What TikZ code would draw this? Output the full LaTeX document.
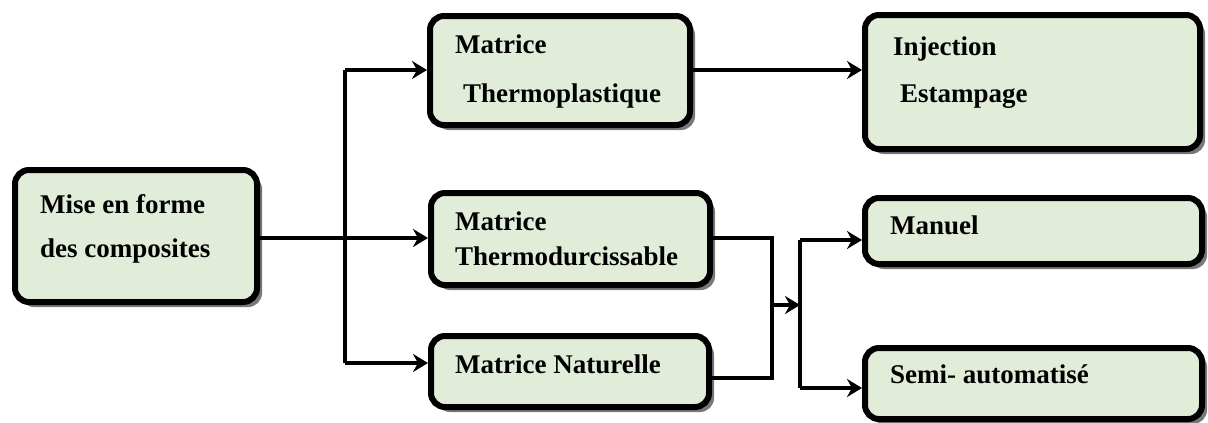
\documentclass[tikz,border=0pt]{standalone}
\usepackage{fontspec}
\setmainfont{Liberation Serif}
\usetikzlibrary{arrows.meta,shadows}
\definecolor{boxfill}{RGB}{225,237,216}
\definecolor{shadowgray}{RGB}{120,120,120}
\tikzset{
  box/.style={draw=black, line width=6pt, rounded corners=14pt, fill=boxfill,
    drop shadow={shadow xshift=5pt, shadow yshift=-5pt, fill=shadowgray, opacity=1},
    inner sep=0pt},
  lbl/.style={anchor=base west, inner sep=0pt, font=\fontsize{27}{31}\selectfont\bfseries},
  conn/.style={line width=4.5pt, line join=miter},
  arr/.style={conn, -{Stealth[length=15pt,width=18pt,inset=5pt]}},
}
\begin{document}
\begin{tikzpicture}[x=1pt,y=-1pt]
\useasboundingbox (0,0) rectangle (1208,423);
% boxes
\node[box, minimum width=242pt, minimum height=132pt] (mise) at (136,236) {};
\node[box, minimum width=260pt, minimum height=109pt] (thermop) at (560,70.5) {};
\node[box, minimum width=279pt, minimum height=92pt] (thermod) at (570.5,239) {};
\node[box, minimum width=278pt, minimum height=71pt] (natur) at (570,371.5) {};
\node[box, minimum width=335pt, minimum height=134pt] (inj) at (1032.5,82) {};
\node[box, minimum width=337pt, minimum height=66pt] (manuel) at (1033.5,231) {};
\node[box, minimum width=337pt, minimum height=71pt] (semi) at (1033.5,383.5) {};
% texts
\node[lbl] (t1) at (40,213) {Mise en forme};
\node[lbl] (t2) at (40,257) {des composites};
\node[lbl] (t3) at (455,53) {Matrice};
\node[lbl] (t4) at (463,102) {Thermoplastique};
\node[lbl] (t5) at (455,230) {Matrice};
\node[lbl] (t6) at (455,265) {Thermodurcissable};
\node[lbl] (t7) at (455,373) {Matrice Naturelle};
\node[lbl] (t8) at (893,55) {Injection};
\node[lbl] (t9) at (900,102) {Estampage};
\node[lbl] (t10) at (890,234) {Manuel};
\node[lbl] (t11) at (890,383) {Semi- automatisé};
% connector coordinates
\coordinate (sTop) at (345,70);
\coordinate (sBot) at (345,363);
\coordinate (rTop) at (772,238);
\coordinate (rBot) at (772,378);
\coordinate (rMid) at (772,305);
\coordinate (jMid) at (800,305);
\coordinate (jTop) at (800,240);
\coordinate (jBot) at (800,388);
% connectors
\draw[arr] (mise.east |- 0,238) -- (thermod.west |- 0,238);
\draw[conn] (sBot) -- (sTop);
\draw[arr] (sTop) -- (sTop -| thermop.west);
\draw[arr] (sBot) -- (sBot -| natur.west);
\draw[arr] (thermop.east |- sTop) -- (inj.west |- sTop);
\draw[conn] (thermod.east |- rTop) -- (rTop) -- (rBot) -- (natur.east |- rBot);
\draw[arr] (rMid) -- (jMid);
\draw[conn] (jTop) -- (jBot);
\draw[arr] (jTop) -- (jTop -| manuel.west);
\draw[arr] (jBot) -- (jBot -| semi.west);
\end{tikzpicture}
\end{document}
